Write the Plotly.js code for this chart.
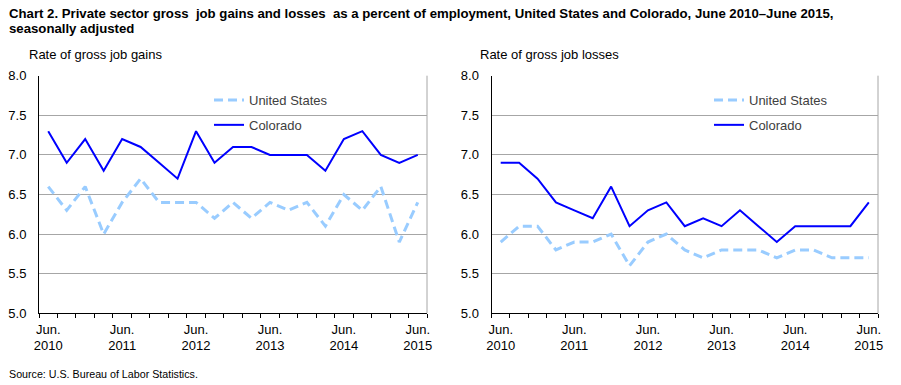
<!DOCTYPE html>
<html>
<head>
<meta charset="utf-8">
<script src="https://cdn.plot.ly/plotly-3.0.1.min.js"></script>
<style>html,body{margin:0;padding:0;background:#fff;}#chart{width:901px;height:385px;}</style>
</head>
<body>
<div id="chart"></div>
<script>
// Quarterly periods, June 2010 – June 2015
var periods = [0,1,2,3,4,5,6,7,8,9,10,11,12,13,14,15,16,17,18,19,20];
var tickPositions = [0,4,8,12,16,20];
var tickMonths = ["Jun.","Jun.","Jun.","Jun.","Jun.","Jun."];
var tickYears = ["2010","2011","2012","2013","2014","2015"];

// Rate of gross job gains
var gainsUS = [6.6,6.3,6.6,6.0,6.4,6.7,6.4,6.4,6.4,6.2,6.4,6.2,6.4,6.3,6.4,6.1,6.5,6.3,6.6,5.9,6.4];
var gainsCO = [7.3,6.9,7.2,6.8,7.2,7.1,6.9,6.7,7.3,6.9,7.1,7.1,7.0,7.0,7.0,6.8,7.2,7.3,7.0,6.9,7.0];

// Rate of gross job losses
var lossesUS = [5.9,6.1,6.1,5.8,5.9,5.9,6.0,5.6,5.9,6.0,5.8,5.7,5.8,5.8,5.8,5.7,5.8,5.8,5.7,5.7,5.7];
var lossesCO = [6.9,6.9,6.7,6.4,6.3,6.2,6.6,6.1,6.3,6.4,6.1,6.2,6.1,6.3,6.1,5.9,6.1,6.1,6.1,6.1,6.4];

var FONT = "Liberation Sans, Arial, sans-serif";
var W = 901, H = 385;
var usStyle = {color:"#99ccff", width:3, dash:"9px,5px"};
var coStyle = {color:"#0000ff", width:2};

var traces = [
  {x:periods, y:gainsUS, type:"scatter", mode:"lines", name:"United States", line:usStyle, xaxis:"x", yaxis:"y", legend:"legend", legendgroup:"a"},
  {x:periods, y:gainsCO, type:"scatter", mode:"lines", name:"Colorado", line:coStyle, xaxis:"x", yaxis:"y", legend:"legend", legendgroup:"b"},
  {x:periods, y:lossesUS, type:"scatter", mode:"lines", name:"United States", line:usStyle, xaxis:"x2", yaxis:"y2", legend:"legend2", legendgroup:"c"},
  {x:periods, y:lossesCO, type:"scatter", mode:"lines", name:"Colorado", line:coStyle, xaxis:"x2", yaxis:"y2", legend:"legend2", legendgroup:"d"},
  // empty helper traces so the year-label axes get drawn
  {x:[], y:[], type:"scatter", mode:"lines", xaxis:"x3", yaxis:"y", showlegend:false, hoverinfo:"skip"},
  {x:[], y:[], type:"scatter", mode:"lines", xaxis:"x4", yaxis:"y2", showlegend:false, hoverinfo:"skip"}
];

function xAxis(domain, anchor){
  return {
    domain: domain, anchor: anchor,
    range: [-0.5, 20.5], showgrid: false, zeroline: false,
    showline: true, linecolor: "#000", linewidth: 1,
    tickmode: "array", tickvals: tickPositions, ticktext: tickMonths,
    ticks: "", ticklabelstandoff: 4,
    tickfont: {family: FONT, size: 13, color: "#000"},
    minor: {ticks: "outside", ticklen: 4, tickcolor: "#000", tickwidth: 1,
            tickmode: "linear", tick0: -0.5, dtick: 1, showgrid: false},
    fixedrange: true
  };
}
function yearAxis(domain, over, anchor){
  return {
    domain: domain, overlaying: over, anchor: anchor, side: "bottom",
    range: [-0.5, 20.5], autorange: false, showgrid: false, zeroline: false, showline: false,
    tickmode: "array", tickvals: tickPositions, ticktext: tickYears,
    ticks: "", ticklabelstandoff: 23,
    tickfont: {family: FONT, size: 13, color: "#000"},
    fixedrange: true
  };
}
function yAxis(domain, anchor){
  return {
    domain: domain, anchor: anchor,
    range: [5, 8], dtick: 0.5, tick0: 5, tickformat: ".1f",
    showgrid: true, gridcolor: "#a6a6a6", gridwidth: 1, zeroline: false,
    showline: true, linecolor: "#000", linewidth: 1,
    ticks: "", ticklabelstandoff: 9,
    tickfont: {family: FONT, size: 13, color: "#000"},
    fixedrange: true
  };
}
var yd = [1 - 313.3/H, 1 - 75.7/H];
var xd1 = [39/W, 427/W], xd2 = [491.5/W, 878/W];
function legendDef(xpx){
  return {
    x: xpx/W, xanchor: "left", y: 1 - 85/H, yanchor: "top",
    bgcolor: "rgba(0,0,0,0)", borderwidth: 0,
    font: {family: FONT, size: 13, color: "#404040"},
    traceorder: "grouped", tracegroupgap: 5, itemwidth: 30
  };
}

var layout = {
  width: W, height: H,
  margin: {l:0, r:0, t:0, b:0},
  paper_bgcolor: "#fff", plot_bgcolor: "#fff",
  font: {family: FONT, size: 13, color: "#000"},
  showlegend: true,
  xaxis: xAxis(xd1, "y"),
  yaxis: yAxis(yd, "x"),
  xaxis2: xAxis(xd2, "y2"),
  yaxis2: yAxis(yd, "x2"),
  xaxis3: yearAxis(xd1, "x", "y"),
  xaxis4: yearAxis(xd2, "x2", "y2"),
  legend: legendDef(209),
  legend2: legendDef(709),
  shapes: [
    {type:"line", xref:"x domain", yref:"y domain", x0:1, x1:1, y0:0, y1:1, line:{color:"#a6a6a6", width:1}},
    {type:"line", xref:"x2 domain", yref:"y2 domain", x0:1, x1:1, y0:0, y1:1, line:{color:"#a6a6a6", width:1}}
  ],
  annotations: [
    {text:"<b>Chart 2. Private sector gross  job gains and losses  as a percent of employment, United States and Colorado, June 2010–June 2015,</b>",
     xref:"paper", yref:"paper", x:7/W, y:1 - 4/H, xanchor:"left", yanchor:"top", showarrow:false,
     font:{family:FONT, size:13.2, color:"#000"}},
    {text:"<b>seasonally adjusted</b>",
     xref:"paper", yref:"paper", x:7/W, y:1 - 19/H, xanchor:"left", yanchor:"top", showarrow:false,
     font:{family:FONT, size:13.2, color:"#000"}},
    {text:"Rate of gross job gains",
     xref:"paper", yref:"paper", x:27/W, y:1 - 45/H, xanchor:"left", yanchor:"top", showarrow:false,
     font:{family:FONT, size:13, color:"#000"}},
    {text:"Rate of gross job losses",
     xref:"paper", yref:"paper", x:478/W, y:1 - 45/H, xanchor:"left", yanchor:"top", showarrow:false,
     font:{family:FONT, size:13, color:"#000"}},
    {text:"Source: U.S. Bureau of Labor Statistics.",
     xref:"paper", yref:"paper", x:7/W, y:1 - 366/H, xanchor:"left", yanchor:"top", showarrow:false,
     font:{family:FONT, size:10.7, color:"#000"}}
  ]
};

Plotly.newPlot("chart", traces, layout, {displayModeBar:false, staticPlot:true});
</script>
</body>
</html>
